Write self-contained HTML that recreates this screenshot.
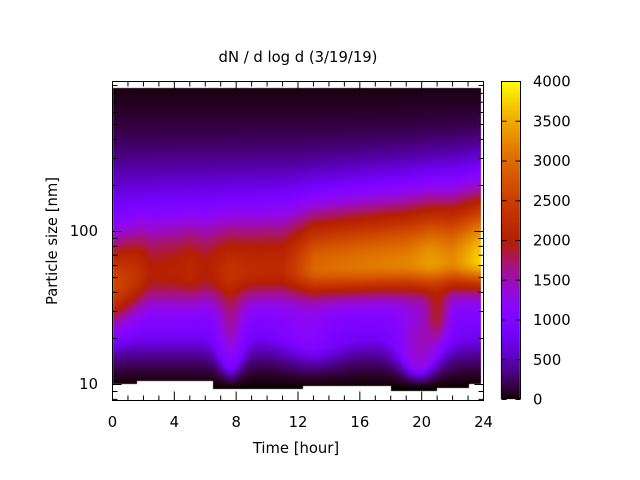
<!DOCTYPE html>
<html><head><meta charset="utf-8"><style>
body{margin:0;background:#fff;width:640px;height:480px;overflow:hidden;position:relative;font-family:"DejaVu Sans","Liberation Sans",sans-serif;}
canvas{position:absolute;left:0;top:0}
svg{position:absolute;left:0;top:0}
</style></head><body>
<canvas id="c" width="640" height="480"></canvas>
<svg width="640" height="480" id="s" font-family="DejaVu Sans, Liberation Sans, sans-serif" font-size="14.8" fill="#000">
<text x="298" y="62" text-anchor="middle">dN / d log d (3/19/19)</text>
<text x="296" y="453" text-anchor="middle">Time [hour]</text>
<text transform="translate(57,241) rotate(-90)" text-anchor="middle">Particle size [nm]</text>
<g id="ax" stroke="#000" stroke-width="1" fill="none"></g>
<g id="lb"></g>
</svg>
<script>
const cv=document.getElementById('c'),ctx=cv.getContext('2d');
function pal(v){v=Math.max(0,Math.min(1,v));return[Math.sqrt(v),v*v*v,Math.max(0,Math.sin(2*Math.PI*v))].map(a=>Math.round(a*255));}
const X0=112,X1=483;
function g(x,m,s){return Math.exp(-0.5*((x-m)/s)**2);}
function interp(t,pts){for(let i=0;i<pts.length-1;i++){if(t<=pts[i+1][0]){const a=pts[i],b=pts[i+1];const f=(t-a[0])/(b[0]-a[0]);return a[1]+f*(b[1]-a[1]);}}return pts[pts.length-1][1];}
function z(t,u){
 let B=1150*(u>1.8?g(u,1.78,0.46):g(u,1.8,0.6));
 let A=interp(t,[[0,1500],[1.5,1200],[2.5,850],[4,900],[5,1000],[6,850],[7.5,1100],[9,1050],[11,1050],[12,1400],[13,1800],[16,1950],[19,2050],[20.5,2250],[22,2100],[24,2700]]);
 let mu=interp(t,[[0,1.64],[2,1.72],[12,1.76],[16,1.78],[24,1.82]]);
 let sd=interp(t,[[0,0.18],[2,0.15],[12,0.13],[24,0.13]]);
 let su=interp(t,[[0,0.2],[3,0.24],[12,0.26],[20,0.3],[24,0.32]]);
 let M=A*(u<mu?g(u,mu,sd):g(u,mu,su));
 let S=600*g(t,7.6,0.6)*g(u,1.35,0.2)+700*g(t,19.8,1.0)*g(u,1.2,0.2)+700*g(t,21,0.5)*g(u,1.45,0.12)+300*g(t,12.5,1.2)*g(u,1.25,0.2);
 let uc=1.32-0.22*Math.max(g(t,7.6,0.7),g(t,19.8,1.1))-0.08*g(t,13.5,1.5);
 let low=1;if(u<uc)low=Math.max(0,(u-0.98)/(uc-0.98));
 return (B+S)*Math.pow(low,1.2)+M;
}
function bottom(t){if(t<1.5)return 384;if(t<6.5)return 381;if(t<12.3)return 389;if(t<18)return 386;if(t<21)return 391;if(t<23)return 388;return 384;}
for(let px=X0+1;px<481;px+=2){const t=(px-X0)/(X1-X0)*24;const bt=bottom(t);
 for(let py=88;py<bt;py+=2){const u=1+(384-py)/153;const c=pal(z(t,u)/4000);ctx.fillStyle=`rgb(${c})`;ctx.fillRect(px,py,2,Math.min(2,bt-py));}}
for(let py=81;py<399;py++){const c=pal((399-py)/318);ctx.fillStyle=`rgb(${c})`;ctx.fillRect(501,py,19,1);}
const ax=document.getElementById('ax'),lb=document.getElementById('lb');let h='',l='';
h+=`<rect x="112.5" y="81.5" width="371" height="319"/><rect x="501.5" y="81.5" width="19" height="317"/>`;
for(let i=0;i<=24;i++){const x=112.5+i*371/24;const len=i%4==0?9:5;h+=`<path d="M${x} 400.5v-${len}M${x} 81.5v${len}"/>`;if(i%4==0)l+=`<text x="${x}" y="427" text-anchor="middle">${i}</text>`;}
for(let d=8;d<=900;){const y=384-(Math.log10(d)-1)*153+0.5;if(y>=81&&y<=401){const maj=(d==10||d==100);const len=maj?9:5;h+=`<path d="M112.5 ${y}h${len}M483.5 ${y}h-${len}"/>`;}
 const dec=Math.pow(10,Math.floor(Math.log10(d)+1e-9));d+=dec;}
l+=`<text x="98" y="389" text-anchor="end">10</text><text x="98" y="236" text-anchor="end">100</text>`;
for(let v=0;v<=4000;v+=500){const y=399-v/4000*318+0.5;h+=`<path d="M501.5 ${y}h5M520.5 ${y}h-5"/>`;l+=`<text x="533" y="${y+5}">${v}</text>`;}
ax.innerHTML=h;lb.innerHTML=l;
</script>
</body></html>
